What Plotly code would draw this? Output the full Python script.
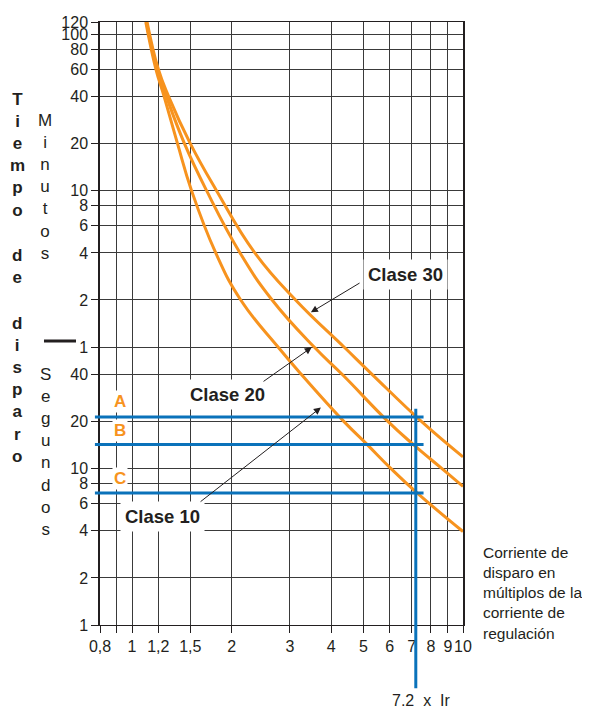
import math
import plotly.graph_objects as go

# ---------------- data ----------------
# trip current in multiples of setting current (x) and trip time in seconds (t)
clase10_x = [1.10, 1.18, 1.25, 1.372, 1.513, 1.79, 2.13, 2.761, 3.25, 4.37, 5.128, 6.06, 7.262, 10.0]
clase10_t = [7200, 3600, 2400, 1200, 600, 240, 120, 60, 40, 20, 14.3, 10, 7.0, 3.96]

clase20_x = [1.105, 1.19, 1.27, 1.44, 1.68, 2.12, 2.65, 3.55, 4.32, 5.94, 7.07, 8.64, 10.0]
clase20_t = [7200, 3600, 2400, 1200, 600, 240, 120, 60, 40, 20, 14.3, 10, 7.7]

clase30_x = [1.11, 1.20, 1.29, 1.50, 1.80, 2.35, 3.12, 4.37, 5.32, 7.5, 10.0]
clase30_t = [7200, 3600, 2400, 1200, 600, 240, 120, 60, 40, 20, 11.9]

# reference levels A, B, C (seconds) and trip multiple
level_names = ["A", "B", "C"]
level_t = [21.4, 14.3, 7.0]
level_label_t = [26.9, 17.5, 8.6]
level_end_x = 7.6
trip_multiple = 7.2
trip_line_top_t = 24.2

# axis ticks
x_tickvals = [0.8, 0.9, 1, 1.2, 1.5, 2, 3, 4, 5, 6, 7, 8, 9, 10]
x_ticktext = ["0,8", "", "1", "1,2", "1,5", "2", "3", "4", "5", "6", "7", "8", "9", "10"]
y_tickvals = [7200, 6000, 4800, 3600, 2400, 1200, 600, 480, 360, 240, 120, 60,
              40, 20, 10, 8, 6, 4, 2, 1]
y_ticktext = ["120", "100", "80", "60", "40", "20", "10", "8", "6", "4", "2", "1",
              "40", "20", "10", "8", "6", "4", "2", "1"]

x_range = (0.8, 10)
y_range = (1, 7200)

ORANGE = "#F7931E"
BLUE = "#0A72BA"
INK = "#231F20"
GRID = "#3a3a3a"
FONT = "Liberation Sans, Arial, Helvetica, sans-serif"

L = math.log10


def xpaper(v):
    return (L(v) - L(x_range[0])) / (L(x_range[1]) - L(x_range[0]))


def ypaper(v):
    return (L(v) - L(y_range[0])) / (L(y_range[1]) - L(y_range[0]))


fig = go.Figure()
for xs, ts, name in [(clase10_x, clase10_t, "Clase 10"),
                     (clase20_x, clase20_t, "Clase 20"),
                     (clase30_x, clase30_t, "Clase 30")]:
    fig.add_trace(go.Scatter(x=xs, y=ts, mode="lines", name=name,
                             line=dict(color=ORANGE, width=3, shape="spline", smoothing=1.3),
                             showlegend=False, hoverinfo="skip"))

shapes = []
# horizontal A/B/C lines
for t in level_t:
    shapes.append(dict(type="line", xref="paper", yref="y",
                       x0=-0.014, x1=xpaper(level_end_x), y0=t, y1=t,
                       line=dict(color=BLUE, width=3), layer="above"))
# vertical line at 7.2 x Ir
shapes.append(dict(type="line", xref="x", yref="paper",
                   x0=trip_multiple, x1=trip_multiple,
                   y0=-0.105, y1=ypaper(trip_line_top_t),
                   line=dict(color=BLUE, width=3), layer="above"))
# black dash separating minutes / seconds
shapes.append(dict(type="line", xref="paper", yref="paper",
                   x0=-0.1543, x1=-0.0661, y0=0.471, y1=0.471,
                   line=dict(color=INK, width=3)))

annotations = []


def label(text, x, t, size=18.5):
    annotations.append(dict(text="<b>%s</b>" % text, x=L(x), y=L(t), xref="x", yref="y",
                            showarrow=False, bgcolor="white", borderpad=4,
                            xanchor="center", yanchor="middle",
                            font=dict(family=FONT, size=size, color=INK)))


def arrow(x_head, t_head, x_tail, t_tail):
    annotations.append(dict(text="", x=L(x_head), y=L(t_head), ax=L(x_tail), ay=L(t_tail),
                            xref="x", yref="y", axref="x", ayref="y",
                            showarrow=True, arrowhead=2, arrowsize=1.4, arrowwidth=1,
                            arrowcolor=INK))


label("Clase 30", 6.7, 175)
arrow(3.47, 100, 4.92, 156)
label("Clase 20", 1.936, 29.8)
arrow(3.49, 59.7, 2.47, 35.6)
label("Clase 10", 1.232, 4.93)
arrow(3.72, 24.6, 1.594, 6.05)

for name, tt in zip(level_names, level_label_t):
    annotations.append(dict(text="<b>%s</b>" % name, x=L(0.92), y=L(tt), xref="x", yref="y",
                            showarrow=False, bgcolor="white", borderpad=1,
                            xanchor="center", yanchor="middle",
                            font=dict(family=FONT, size=17, color=ORANGE)))


def py2paper(py):
    return (625 - py) / 603


def px2paper(px):
    return (px - 100) / 363


# 7,2 x Ir
annotations.append(dict(text="7,2  x  Ir", x=px2paper(421), y=py2paper(700),
                        xref="paper", yref="paper", xanchor="center", yanchor="middle",
                        showarrow=False, font=dict(family=FONT, size=16, color=INK)))


def stacked(word, px, py_center, bold=False, size=17):
    if bold:
        txt = "<br>".join("<b>%s</b>" % c for c in word)
    else:
        txt = "<br>".join(list(word))
    annotations.append(dict(text=txt, x=px2paper(px), y=py2paper(py_center),
                            xref="paper", yref="paper", xanchor="center", yanchor="middle",
                            showarrow=False, align="center",
                            font=dict(family=FONT, size=size, color=INK)))


stacked("Tiempo", 17, 155, bold=True)
stacked("de", 17, 266.5, bold=True)
stacked("disparo", 17, 390, bold=True)
stacked("Minutos", 45, 186.5)
stacked("Segundos", 45, 452)

annotations.append(dict(text="Corriente de<br>disparo en<br>múltiplos de la<br>corriente de<br>regulación",
                        x=px2paper(481), y=py2paper(593), xref="paper", yref="paper",
                        xanchor="left", yanchor="middle", align="left", showarrow=False,
                        font=dict(family=FONT, size=15.5, color=INK)))

# the page body adds an 8px offset; margins compensate so the plot area sits at x 100..463, y 22..625
fig.update_layout(
    width=590, height=706,
    margin=dict(l=92, r=135, t=14, b=89),
    paper_bgcolor="white", plot_bgcolor="white",
    font=dict(family=FONT, color=INK),
    shapes=shapes, annotations=annotations,
    xaxis=dict(type="log", range=[L(x_range[0]), L(x_range[1])],
               tickvals=x_tickvals, ticktext=x_ticktext, tickangle=0, automargin=False,
               ticks="outside", ticklen=7, tickcolor=INK, tickwidth=1,
               showgrid=True, gridcolor=GRID, gridwidth=1,
               showline=True, linecolor=INK, linewidth=1, mirror=True,
               zeroline=False, tickfont=dict(size=16, color=INK)),
    yaxis=dict(type="log", range=[L(y_range[0]), L(y_range[1])],
               tickvals=y_tickvals, ticktext=y_ticktext, automargin=False,
               ticks="outside", ticklen=7, tickcolor=INK, tickwidth=1,
               showgrid=True, gridcolor=GRID, gridwidth=1,
               showline=True, linecolor=INK, linewidth=1.5, mirror=True,
               zeroline=False, tickfont=dict(size=16, color=INK)),
)

fig.write_html("out.html")
